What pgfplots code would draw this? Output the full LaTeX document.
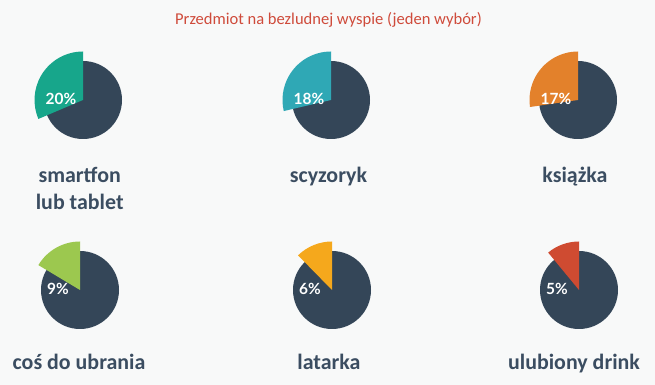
\documentclass[border=0pt]{standalone}
\usepackage{pgfplots}
\pgfplotsset{compat=1.18}
\usepackage{fontspec}
\setmainfont{Carlito}
\newfontfamily\lato{Lato}
\definecolor{bg}{HTML}{F8F9F9}
\definecolor{slate}{HTML}{344658}
\definecolor{lab}{HTML}{3B4D61}
\definecolor{ttl}{HTML}{CF4B3B}
\definecolor{cteal}{HTML}{17A68B}
\definecolor{cblue}{HTML}{2FA8B5}
\definecolor{corange}{HTML}{E3812B}
\definecolor{cgreen}{HTML}{9CC84F}
\definecolor{cyellow}{HTML}{F5A81C}
\definecolor{cred}{HTML}{CF4B31}
% #1 cx, #2 cy, #3 percent, #4 colour
\newcommand{\pie}[4]{%
  \fill[slate] (axis cs:#1,#2) circle[radius=39];
  \fill[#4] (axis cs:#1,#2) -- ++(90:48.5bp) arc[start angle=90, delta angle={15+4.9*#3}, radius=48.5bp] -- cycle;
  \node[text=white, font=\lato\bfseries\fontsize{15.5}{18}\selectfont, inner sep=0pt] at (axis cs:{#1-22},{#2+1}) {#3\%};
}
\begin{document}
\begin{tikzpicture}
\begin{axis}[
  scale only axis, width=655bp, height=385bp,
  xmin=0, xmax=655, ymin=0, ymax=385,
  hide axis, clip=false]
\fill[bg] (axis cs:0,0) rectangle (axis cs:655,385);
\node[anchor=base, text=ttl, font=\fontsize{16.6}{19}\selectfont, inner sep=0pt] at (axis cs:328.5,360) {Przedmiot na bezludnej wyspie (jeden wybór)};
\pie{83}{285}{20}{cteal}
\pie{331}{285}{18}{cblue}
\pie{578}{285}{17}{corange}
\pie{80}{95}{9}{cgreen}
\pie{332}{95}{6}{cyellow}
\pie{579}{95}{5}{cred}
\tikzset{lbl/.style={anchor=base, text=lab, font=\bfseries\fontsize{22}{27}\selectfont, inner sep=0pt}}
\node[lbl] at (axis cs:79.7,202) {smartfon};
\node[lbl] at (axis cs:79.7,175) {lub tablet};
\node[lbl] at (axis cs:328.5,202) {scyzoryk};
\node[lbl] at (axis cs:575,202) {książka};
\node[lbl] at (axis cs:79,16) {coś do ubrania};
\node[lbl] at (axis cs:329,16) {latarka};
\node[lbl] at (axis cs:574,16) {ulubiony drink};
\end{axis}
\end{tikzpicture}
\end{document}
